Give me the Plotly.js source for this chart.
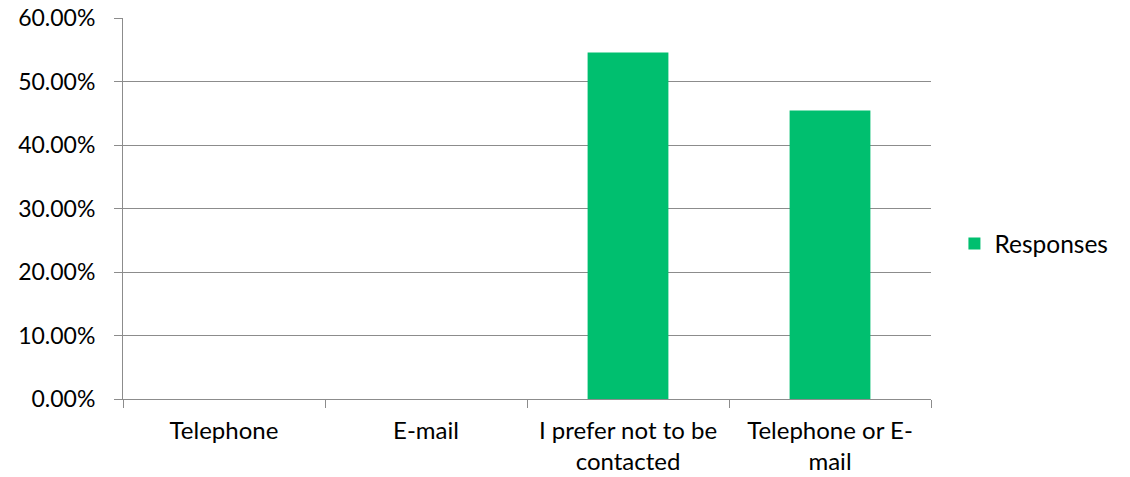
<!DOCTYPE html>
<html><head><meta charset="utf-8">
<script src="https://cdn.plot.ly/plotly-3.0.1.min.js"></script>
<style>body{margin:0;background:#fff}#c{width:1130px;height:477px}</style>
</head><body><div id="c"></div>
<script>
const categories = ["Telephone", "E-mail", "I prefer not to be<br>contacted", "Telephone or E-<br>mail"];
const responses = [0, 0, 0.5455, 0.4545];
const seriesName = "Responses";

const gridColor = "#8c8c8c";
Plotly.newPlot("c", [{
  type: "bar", x: categories, y: responses, name: seriesName,
  marker: {color: "#00BF6F"}, showlegend: true, hoverinfo: "skip"
}], {
  width: 1130, height: 477,
  margin: {l: 123, r: 199, t: 18, b: 78},
  paper_bgcolor: "#fff", plot_bgcolor: "#fff",
  font: {family: "Lato, 'Open Sans', sans-serif", size: 24, color: "#000"},
  bargap: 0.6,
  showlegend: true,
  legend: {x: 1.029, y: 0.408, xanchor: "left", yanchor: "middle", font: {size: 24.5}, itemwidth: 30},
  xaxis: {
    type: "category", tickson: "boundaries", ticks: "outside", ticklen: 8, tickcolor: gridColor,
    showline: true, linecolor: gridColor, linewidth: 1, showgrid: false, zeroline: false,
    tickfont: {size: 24}, ticklabelstandoff: 10
  },
  yaxis: {
    range: [0, 0.6], dtick: 0.1, tickformat: ".2%", ticks: "outside", ticklen: 8, tickcolor: gridColor,
    showline: true, linecolor: gridColor, showgrid: true, gridcolor: gridColor, gridwidth: 1,
    zeroline: false, tickfont: {size: 23}, ticklabelstandoff: 14
  }
}, {displayModeBar: false, staticPlot: true});
</script></body></html>
